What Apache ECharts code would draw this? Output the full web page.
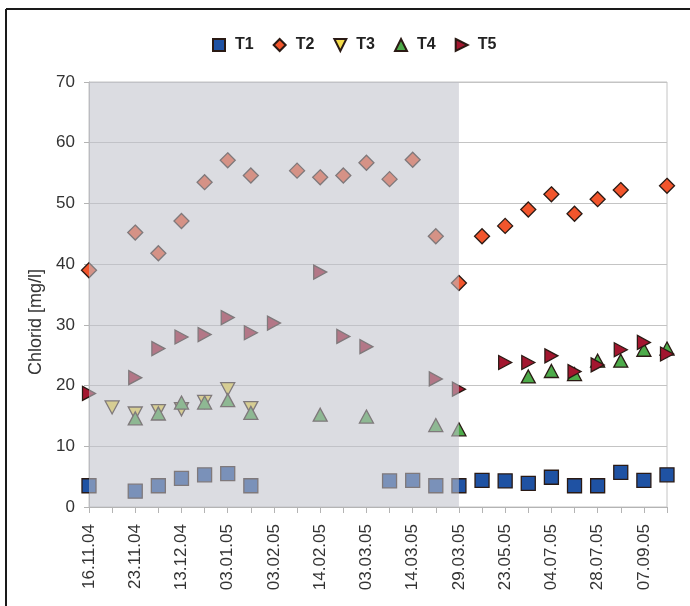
<!DOCTYPE html>
<html>
<head>
<meta charset="utf-8">
<script src="https://cdn.jsdelivr.net/npm/echarts@6/dist/echarts.min.js"></script>
<style>html,body{margin:0;padding:0;background:#fff}#c{width:690px;height:606px}</style>
</head>
<body>
<div id="c"></div>
<script>
// Tick labels shown at every second sampling date
const tickLabels = ['16.11.04','23.11.04','13.12.04','03.01.05','03.02.05','14.02.05','03.03.05','14.03.05','29.03.05','23.05.05','04.07.05','28.07.05','07.09.05'];
const nCategories = 26;
const categories = [];
for (let i = 0; i < nCategories; i++) categories.push(i % 2 === 0 ? tickLabels[i / 2] : ' '.repeat(i));

const seriesNames = ['T1','T2','T3','T4','T5'];
const T1 = [3.5,'-',2.6,3.5,4.7,5.3,5.5,3.5,'-','-','-','-','-',4.3,4.4,3.5,3.5,4.4,4.3,3.9,4.9,3.5,3.5,5.7,4.4,5.3];
const T2 = [39.0,'-',45.2,41.8,47.1,53.5,57.1,54.6,'-',55.4,54.3,54.6,56.7,54.0,57.2,44.6,36.9,44.6,46.3,49.0,51.5,48.3,50.7,52.2,'-',52.9];
const T3 = ['-',16.4,15.4,15.8,16.1,17.3,19.4,16.3,'-','-','-','-','-','-','-','-','-','-','-','-','-','-','-','-','-','-'];
const T4 = ['-','-',14.6,15.4,17.2,17.2,17.6,15.5,'-','-',15.2,'-',14.9,'-','-',13.5,12.8,'-','-',21.5,22.4,21.9,24.1,24.1,25.9,26.1];
const T5 = [18.7,'-',21.3,26.1,28.0,28.4,31.2,28.7,30.3,'-',38.7,28.1,26.4,'-','-',21.1,19.4,'-',23.8,23.8,24.9,22.3,23.4,25.9,27.1,25.2];
const shadedFrom = 0, shadedTo = 16;

const values = [T1,T2,T3,T4,T5];
const colors = ['#1f52a3','#f2552c','#f4dc4a','#4dab4a','#a3162f'];
const symbols = ['rect','diamond','path://M0,0 L10,0 L5,10 Z','triangle','path://M0,0 L10,5 L0,10 Z'];
const sizes = [[14,14],[15,15],[14,13],[14,13],[13,14]];

const chart = echarts.init(document.getElementById('c'), null, {renderer:'canvas'});
const font = "'Liberation Sans', Arial, sans-serif";

const series = seriesNames.map((n, k) => ({
  name: n,
  type: 'scatter',
  data: values[k],
  symbol: symbols[k],
  symbolSize: sizes[k],
  clip: false,
  itemStyle: {color: colors[k], borderColor: '#2a1a14', borderWidth: 1.3, opacity: 1},
  z: 2
}));
series.push({
  type: 'scatter', data: [], silent: true,
  markArea: {
    silent: true, z: 6,
    itemStyle: {color: 'rgba(192,194,202,0.57)'},
    data: [[{xAxis: categories[shadedFrom], yAxis: 0}, {xAxis: categories[shadedTo], yAxis: 70}]]
  }
});

chart.setOption({
  animation: false,
  textStyle: {fontFamily: font},
  legend: {
    data: seriesNames,
    top: 32, left: 207,
    itemWidth: 12, itemHeight: 12, itemGap: 19,
    textStyle: {fontSize: 16, fontWeight: 'bold', color: '#222', fontFamily: font, padding: [0, 0, 0, 5]}
  },
  grid: {left: 89, right: 23, top: 82, bottom: 99, containLabel: false, outerBoundsMode: 'none', show: true, borderColor: '#c4c4c4', borderWidth: 1, backgroundColor: '#fff'},
  xAxis: {
    type: 'category', data: categories, boundaryGap: false,
    axisLine: {lineStyle: {color: '#b4b4b4'}},
    axisTick: {show: true, interval: 0, length: 6, lineStyle: {color: '#b4b4b4'}},
    axisLabel: {interval: 0, rotate: 90, margin: 17, fontSize: 17, color: '#333', fontFamily: font},
    splitLine: {show: false}
  },
  yAxis: {
    type: 'value', min: 0, max: 70, interval: 10,
    axisLine: {show: true, lineStyle: {color: '#b4b4b4'}},
    axisTick: {show: true, length: 5, lineStyle: {color: '#b4b4b4'}},
    axisLabel: {margin: 14, fontSize: 17, color: '#333', fontFamily: font},
    splitLine: {lineStyle: {color: '#c4c4c4'}}
  },
  graphic: [
    {type: 'line', shape: {x1: 6, y1: 9, x2: 690, y2: 9}, style: {stroke: '#1a1a1a', lineWidth: 2}},
    {type: 'line', shape: {x1: 6, y1: 9, x2: 6, y2: 606}, style: {stroke: '#1a1a1a', lineWidth: 2}},
    {type: 'text', x: 36, y: 322, rotation: Math.PI / 2,
     style: {text: 'Chlorid [mg/l]', fontSize: 18, fill: '#333', fontFamily: font, align: 'center', verticalAlign: 'middle'}}
  ],
  series: series
});
</script>
</body>
</html>
